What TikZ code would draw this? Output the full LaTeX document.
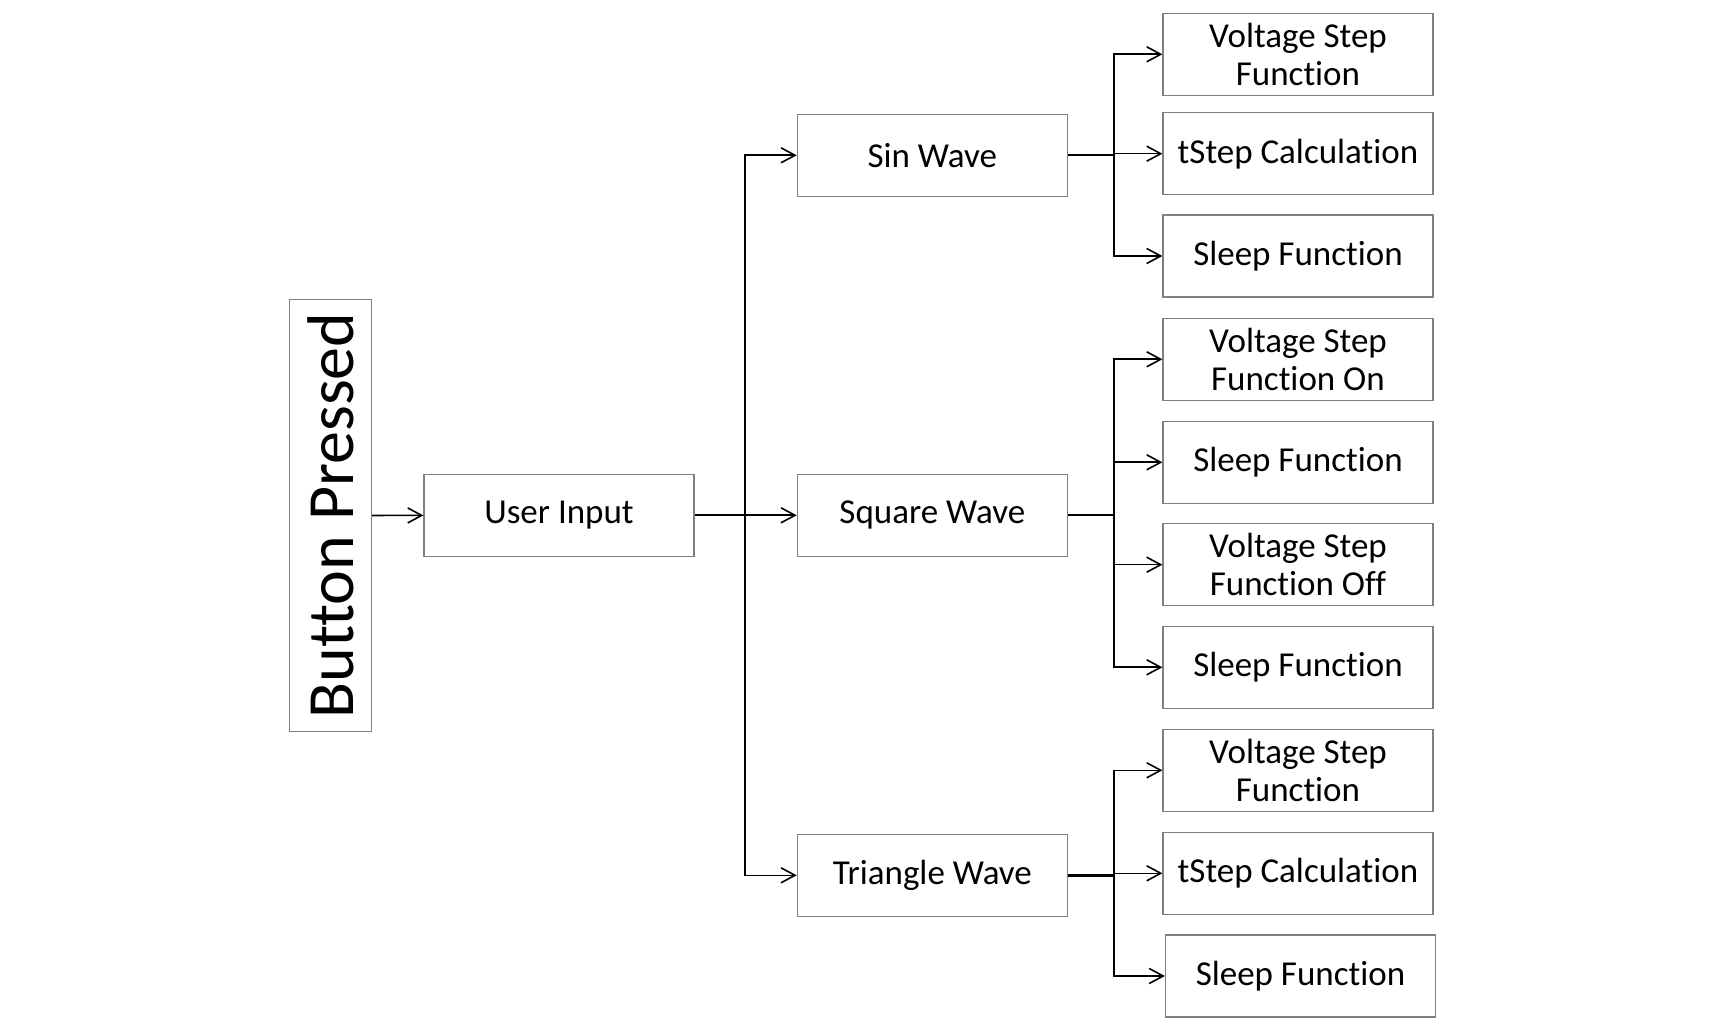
\documentclass[tikz,border=0pt]{standalone}
\usepackage{fontspec}
\usepackage{graphicx}
\setmainfont{Carlito}[Ligatures=NoCommon]
\usetikzlibrary{arrows.meta}

\tikzset{
  block/.style={draw=black!50, line width=0.6pt, minimum width=135pt,
    minimum height=41pt, inner sep=0pt, align=center,
    font=\fontsize{17.5}{19}\selectfont},
  link/.style={line width=0.8pt, -{Straight Barb[length=7pt,width=7.5pt]}},
  stub/.style={line width=1.2pt}
}

\begin{document}
\begin{tikzpicture}[x=0.5pt,y=-0.5pt]
  \useasboundingbox (0,0) rectangle (1729,1020);

  % left side
  \node[block, minimum width=41pt, minimum height=216pt,
    font=\fontsize{33}{33}\selectfont] (press) at (330.5,515.5)
    {\rotatebox{90}{Button Pressed}};
  \node[block] (user) at (559,515.3) {User Input};

  % wave types
  \node[block] (sin) at (932.3,155.3) {Sin Wave};
  \node[block] (square) at (932.3,515.3) {Square Wave};
  \node[block] (tri) at (932.3,875.3) {Triangle Wave};

  % sin wave steps
  \node[block] (sin1) at (1298,54.3) {Voltage Step\\Function};
  \node[block] (sin2) at (1298,153.7) {tStep Calculation};
  \node[block] (sin3) at (1298,256) {Sleep Function};

  % square wave steps
  \node[block] (sq1) at (1298,359.3) {Voltage Step\\Function On};
  \node[block] (sq2) at (1298,462.3) {Sleep Function};
  \node[block] (sq3) at (1298,564.7) {Voltage Step\\Function Off};
  \node[block] (sq4) at (1298,667.3) {Sleep Function};

  % triangle wave steps
  \node[block] (tri1) at (1298,770.3) {Voltage Step\\Function};
  \node[block] (tri2) at (1298,873.3) {tStep Calculation};
  \node[block] (tri3) at (1300.5,976) {Sleep Function};

  % forks
  \coordinate (fork) at (745,515.3);
  \coordinate (sinfork) at (1114,155.3);
  \coordinate (sqfork) at (1114,515.3);
  \coordinate (trifork) at (1114,875.3);

  \draw[link] (press) -- (user);
  \draw[stub] (user) -- (fork);
  \draw[link] (fork) |- (sin);
  \draw[link] (fork) -- (square);
  \draw[link] (fork) |- (tri);

  \draw[stub] (sin) -- (sinfork);
  \draw[stub] (square) -- (sqfork);
  \draw[stub] (tri) -- (trifork);

  \foreach \leaf in {sin1,sin2,sin3}
    \draw[link] (sinfork) |- (\leaf);
  \foreach \leaf in {sq1,sq2,sq3,sq4}
    \draw[link] (sqfork) |- (\leaf);
  \foreach \leaf in {tri1,tri2,tri3}
    \draw[link] (trifork) |- (\leaf);
\end{tikzpicture}
\end{document}
